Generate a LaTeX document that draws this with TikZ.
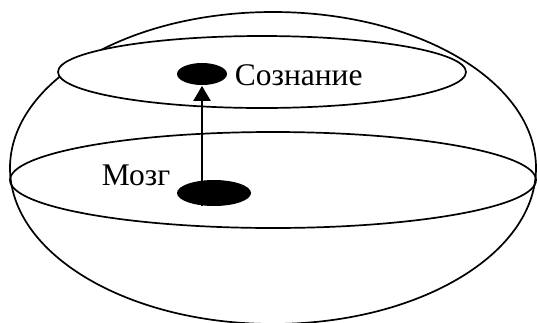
\documentclass[tikz,border=0pt]{standalone}
\usepackage{fontspec}
\setmainfont{Liberation Serif}
\usetikzlibrary{arrows.meta,shapes.geometric}
\begin{document}
\begin{tikzpicture}[x=1pt,y=-1pt,line width=1.7pt,
  blob/.style={ellipse,fill=black,draw=none,inner sep=0pt},
  lbl/.style={anchor=base west,inner sep=0pt,font=\fontsize{31.5}{36}\selectfont}]
\useasboundingbox (0,0) rectangle (537,322);
% outer body
\draw (273,168) ellipse [x radius=263pt, y radius=156pt];
% upper plane (consciousness)
\filldraw[fill=white] (262,72) ellipse [x radius=204pt, y radius=36pt];
% equator plane (brain)
\draw (273,180) ellipse [x radius=263pt, y radius=48pt];
% blobs
\node[blob,minimum width=50pt,minimum height=22pt] (top) at (202,74) {};
\node[blob,minimum width=74pt,minimum height=26pt] (bot) at (214,193) {};
\coordinate (a0) at (202,206);
\draw[line width=2pt,-{Triangle[length=15pt,width=17pt]}] (a0) -- (top.south);
% labels
\node[lbl] (soz) at (234,85) {Сознание};
\node[lbl] (mozg) at (101,185) {Мозг};
\end{tikzpicture}
\end{document}
